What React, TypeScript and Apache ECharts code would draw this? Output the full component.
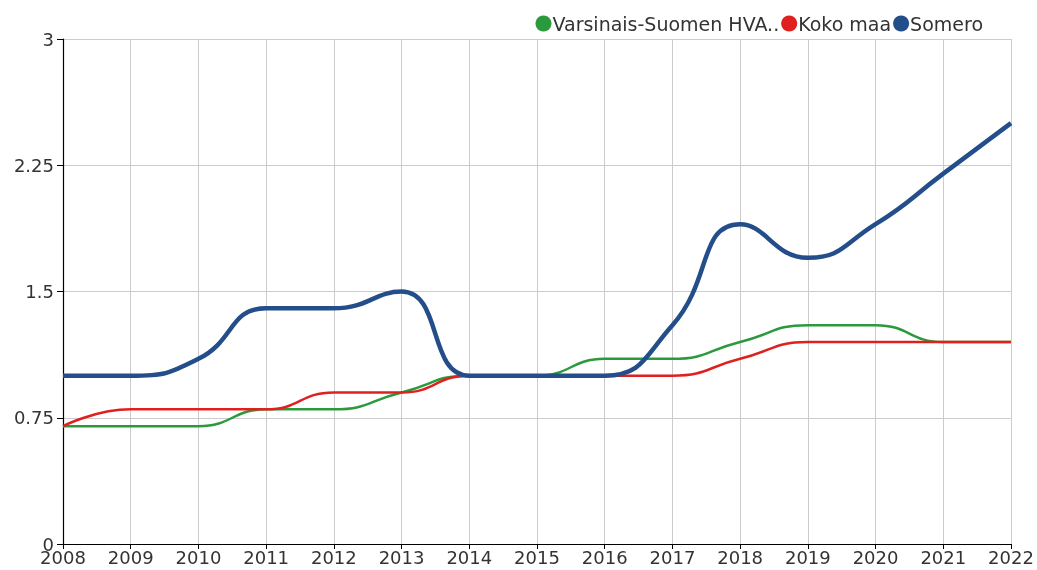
import React, { useEffect, useRef } from "react";
import * as echarts from "echarts";

const years = ["2008","2009","2010","2011","2012","2013","2014","2015","2016","2017","2018","2019","2020","2021","2022"];
const varsinaisSuomi = [0.7, 0.7, 0.7, 0.8, 0.8, 0.9, 1.0, 1.0, 1.1, 1.1, 1.2, 1.3, 1.3, 1.2, 1.2];
const kokoMaa = [0.7, 0.8, 0.8, 0.8, 0.9, 0.9, 1.0, 1.0, 1.0, 1.0, 1.1, 1.2, 1.2, 1.2, 1.2];
const somero = [1.0, 1.0, 1.1, 1.4, 1.4, 1.5, 1.0, 1.0, 1.0, 1.3, 1.9, 1.7, 1.9, 2.2, 2.5];
const yTicks = [0, 0.75, 1.5, 2.25, 3];

export default function App() {
  const ref = useRef<HTMLDivElement>(null);
  useEffect(() => {
    const chart = echarts.init(ref.current!, null, { renderer: "svg" });
    const font = "DejaVu Sans";
    chart.setOption({
      animation: false,
      textStyle: { fontFamily: font },
      legend: {
        right: 49,
        top: 9,
        itemGap: 2,
        itemWidth: 16,
        itemHeight: 16,
        icon: "circle",
        textStyle: { fontSize: 19, color: "#333", fontFamily: font, padding: [0, 0, 0, -4] },
        formatter: (n: string) => (n === "Varsinais-Suomen HVA" ? "Varsinais-Suomen HVA.." : n),
        data: [
          { name: "Varsinais-Suomen HVA" },
          { name: "Koko maa", textStyle: { padding: [0, 6, 0, -4] } },
          { name: "Somero" },
        ],
      },
      grid: { left: 63, right: 26, top: 39, bottom: 26, containLabel: false },
      xAxis: {
        type: "category",
        data: years,
        boundaryGap: false,
        axisLine: { show: true, lineStyle: { color: "#000", width: 1.2 } },
        axisTick: { show: true, alignWithLabel: true, length: 5, lineStyle: { color: "#000" } },
        axisLabel: { fontSize: 18, lineHeight: 16, color: "#333", margin: 5, fontFamily: font },
        splitLine: { show: true, lineStyle: { color: "#ccc", width: 1 } },
      },
      yAxis: {
        type: "value",
        min: 0,
        max: 3,
        interval: 0.75,
        axisLine: { show: true, lineStyle: { color: "#000", width: 1.2 } },
        axisTick: { show: true, length: 6, lineStyle: { color: "#000" } },
        axisLabel: { fontSize: 18, lineHeight: 16, color: "#333", margin: 9, fontFamily: font,
          formatter: (v: number) => (yTicks.includes(v) ? String(v) : "") },
        splitLine: { show: true, lineStyle: { color: "#ccc", width: 1 } },
      },
      series: [
        { name: "Varsinais-Suomen HVA", type: "line", data: varsinaisSuomi, smooth: true, symbol: "none", color: "#2a9a3c", lineStyle: { width: 2.5 } },
        { name: "Koko maa", type: "line", data: kokoMaa, smooth: true, symbol: "none", color: "#e0201e", lineStyle: { width: 2.5 } },
        { name: "Somero", type: "line", data: somero, smooth: true, symbol: "none", color: "#234e8a", lineStyle: { width: 4.5 } },
      ],
    });
    return () => chart.dispose();
  }, []);
  return <div ref={ref} style={{ position: "fixed", left: 0, top: 0, width: 1037, height: 570 }} />;
}
